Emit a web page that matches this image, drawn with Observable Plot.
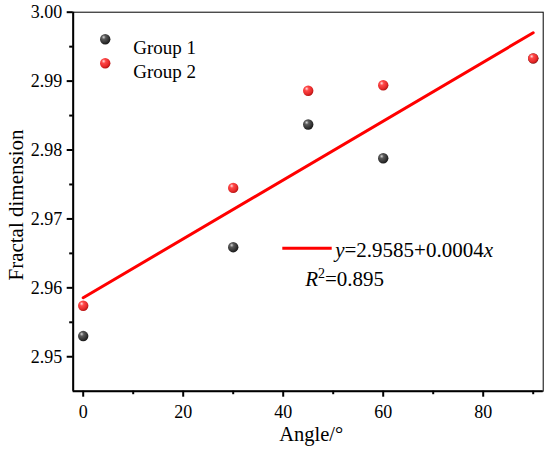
<!DOCTYPE html>
<html>
<head>
<meta charset="utf-8">
<script src="https://cdn.jsdelivr.net/npm/d3@7"></script>
<script src="https://cdn.jsdelivr.net/npm/@observablehq/plot@0.6"></script>
<style>
  html, body { margin: 0; padding: 0; background: #fff; }
  #chart svg { display: block; }
</style>
</head>
<body>
<div id="chart"></div>
<script>
// ---- data ----
const groups = ["Group 1", "Group 2"];
const angles = [0, 30, 45, 60, 90];
const group1 = [2.9530, 2.9659, 2.9837, 2.9788, 2.9933];
const group2 = [2.9574, 2.9745, 2.9886, 2.9894, 2.9933];
const xDomain = [-2, 92];
const yDomain = [2.945, 3.00];
const xMajorTicks = [0, 20, 40, 60, 80];
const xMinorTicks = [10, 30, 50, 70, 90];
const yMajorTicks = [2.95, 2.96, 2.97, 2.98, 2.99, 3.00];
const yMinorTicks = [2.955, 2.965, 2.975, 2.985, 2.995];
const xLabel = "Angle/°";
const yLabel = "Fractal dimension";
const eqIntercept = "2.9585";
const eqSlope = "0.0004";
const r2Value = "0.895";

const colors = {"Group 1": "#3a3a3a", "Group 2": "#ee3030"};

const points = [];
angles.forEach((a, i) => points.push({angle: a, value: group1[i], group: groups[0]}));
angles.forEach((a, i) => points.push({angle: a, value: group2[i], group: groups[1]}));

const font = "Liberation Serif, Times New Roman, serif";

const legendMarks = groups.flatMap((g, i) => [
  Plot.dot([g], {frameAnchor: "top-left", dx: 32, dy: 27 + i * 24, r: 5.2, fill: colors[g]}),
  Plot.text([g], {frameAnchor: "top-left", dx: 60, dy: 28 + i * 24, text: d => d, textAnchor: "start", fontSize: 19, fill: "black"})
]);

const plot = Plot.plot({
  width: 550,
  height: 457,
  marginLeft: 72.7,
  marginRight: 7.3,
  marginTop: 11.7,
  marginBottom: 66.3,
  style: {fontFamily: font, fontSize: "18px", color: "black", background: "white"},
  x: {domain: xDomain},
  y: {domain: yDomain},
  marks: [
    Plot.frame({stroke: "black", strokeWidth: 1}),
    Plot.ruleX([xDomain[0]], {stroke: "black", strokeWidth: 2}),
    Plot.ruleY([yDomain[0]], {stroke: "black", strokeWidth: 2}),
    Plot.axisX(xMajorTicks, {tickSize: 6, tickPadding: 8, strokeWidth: 2, fontSize: 18, label: null}),
    Plot.axisX(xMinorTicks, {tickSize: 3.5, strokeWidth: 2, text: null, label: null}),
    Plot.axisY(yMajorTicks, {tickSize: 6, tickPadding: 5, strokeWidth: 2, fontSize: 18, tickFormat: d3.format(".2f"), label: null}),
    Plot.axisY(yMinorTicks, {tickSize: 3.5, strokeWidth: 2, text: null, label: null}),
    Plot.text([xLabel], {frameAnchor: "bottom", dx: 3, dy: 50, text: d => d, fontSize: 20.5, fill: "black"}),
    Plot.linearRegressionY(points, {x: "angle", y: "value", stroke: "#ff0000", strokeWidth: 3, ci: 0}),
    Plot.dot(points.filter(d => d.group === groups[0]), {x: "angle", y: "value", r: 5.2, fill: colors[groups[0]]}),
    Plot.dot(points.filter(d => d.group === groups[1]), {x: "angle", y: "value", r: 5.2, fill: colors[groups[1]]}),
    ...legendMarks
  ]
});

document.getElementById("chart").appendChild(plot);

// sphere shading
const svg = d3.select(plot);
const defs = svg.insert("defs", ":first-child");
function sphere(id, stops) {
  const g = defs.append("radialGradient").attr("id", id)
    .attr("cx", "38%").attr("cy", "35%").attr("r", "65%").attr("fx", "35%").attr("fy", "30%");
  stops.forEach(([o, c]) => g.append("stop").attr("offset", o).attr("stop-color", c));
}
sphere("sphereDark", [["0%", "#d8d8d8"], ["30%", "#5a5a5a"], ["75%", "#333333"], ["100%", "#1a1a1a"]]);
sphere("sphereRed", [["0%", "#ffe0e0"], ["30%", "#ff4848"], ["75%", "#e62a2a"], ["100%", "#b81414"]]);
svg.selectAll(`g[fill="${colors["Group 1"]}"]`).attr("fill", "url(#sphereDark)");
svg.selectAll(`g[fill="${colors["Group 2"]}"]`).attr("fill", "url(#sphereRed)");

// y-axis title
svg.append("text")
  .attr("transform", "translate(22.5,205) rotate(-90)")
  .attr("text-anchor", "middle")
  .attr("font-family", font).attr("font-size", 21).attr("fill", "black")
  .text(yLabel);

// regression annotation
const fx = 72.7;
const ann = svg.append("g").attr("font-family", font).attr("font-size", 21)
  .attr("fill", "black").attr("text-anchor", "start");
ann.append("line").attr("x1", fx + 209.6).attr("x2", fx + 259).attr("y1", 248.3).attr("y2", 248.3)
  .attr("stroke", "#ff0000").attr("stroke-width", 3);
const t1 = ann.append("text").attr("x", fx + 262.5).attr("y", 256.5);
t1.append("tspan").attr("font-style", "italic").text("y");
t1.append("tspan").text("=" + eqIntercept + "+" + eqSlope);
t1.append("tspan").attr("font-style", "italic").text("x");
const t2 = ann.append("text").attr("x", fx + 232.5).attr("y", 286);
t2.append("tspan").attr("font-style", "italic").text("R");
t2.append("tspan").attr("font-size", 14).attr("dy", -8).text("2");
t2.append("tspan").attr("dy", 8).text("=" + r2Value);
</script>
</body>
</html>
